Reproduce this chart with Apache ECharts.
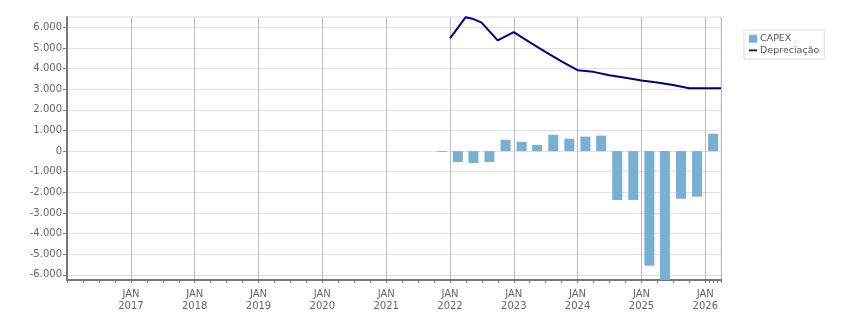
<!DOCTYPE html>
<html>
<head>
<meta charset="utf-8">
<script src="https://cdn.jsdelivr.net/npm/echarts@6/dist/echarts.min.js"></script>
<style>
  html, body { margin: 0; padding: 0; background: #fff; }
  #chart { width: 851px; height: 313px; }
</style>
</head>
<body>
<div id="chart"></div>
<script>
// CAPEX trimestral (barras no meio do trimestre)
var capexDates = ['2021-11-15', '2022-02-15', '2022-05-15', '2022-08-15', '2022-11-15',
  '2023-02-15', '2023-05-15', '2023-08-15', '2023-11-15',
  '2024-02-15', '2024-05-15', '2024-08-15', '2024-11-15',
  '2025-02-15', '2025-05-15', '2025-08-15', '2025-11-15', '2026-02-15'];
var capexValues = [-40, -530, -580, -530, 550,
  450, 300, 790, 600,
  700, 750, -2370, -2370,
  -5560, -6400, -2310, -2210, 840];

// Depreciação
var deprDates = ['2022-01-01', '2022-04-01', '2022-05-15', '2022-07-01', '2022-10-01',
  '2023-01-01', '2023-04-01', '2023-07-01', '2023-10-01',
  '2024-01-01', '2024-04-01', '2024-07-01', '2024-10-01',
  '2025-01-01', '2025-04-01', '2025-07-01', '2025-10-01',
  '2026-01-01', '2026-04-01'];
var deprValues = [5465, 6490, 6400, 6230, 5370,
  5770, 5280, 4810, 4350,
  3920, 3840, 3680, 3550,
  3420, 3320, 3200, 3050,
  3040, 3040];

var yTicks = [-6000, -5000, -4000, -3000, -2000, -1000, 0, 1000, 2000, 3000, 4000, 5000, 6000];

var xMin = '2016-01-01';
var xMax = '2026-04-01';

// data local (mesmo parse que o eixo time do echarts)
function ts(s) {
  var p = s.split('-');
  return new Date(+p[0], +p[1] - 1, +p[2]).getTime();
}

function fmtNum(v) {
  var s = Math.abs(v).toString().replace(/\B(?=(\d{3})+(?!\d))/g, '.');
  return (v < 0 ? '-' : '') + s;
}

var chart = echarts.init(document.getElementById('chart'));

var option = {
  animation: false,
  textStyle: { fontFamily: 'DejaVu Sans' },
  grid: {
    left: 67, right: 130, top: 17, bottom: 33,
    show: true, borderColor: '#dddddd', borderWidth: 1
  },
  legend: {
    orient: 'vertical',
    left: 744, top: 30,
    padding: [3, 5, 3, 5],
    itemWidth: 8, itemHeight: 8, itemGap: 0,
    borderColor: '#dddddd', borderWidth: 1,
    textStyle: { fontSize: 9.5, color: '#555', lineHeight: 11.5, padding: [0, 0, 0, -2] },
    data: [
      { name: 'CAPEX', icon: 'rect' },
      { name: 'Depreciação', icon: 'path://M0,0h0.01v0.01h-0.01z M0,3.2h8v1.8h-8z M7.99,7.99h0.01v0.01h-0.01z' }
    ]
  },
  xAxis: [
    {
      // eixo visivel (datas)
      type: 'time',
      min: xMin,
      max: xMax,
      splitNumber: 10,
      axisLine: { onZero: false, lineStyle: { color: '#777', width: 2 } },
      axisTick: { show: true, length: 3, lineStyle: { color: '#777' } },
      minorTick: { show: true, splitNumber: 4, length: 3, lineStyle: { color: '#777' } },
      splitLine: { show: true, lineStyle: { color: '#bbbbbb' } },
      axisLabel: {
        showMinLabel: false, showMaxLabel: false,
        color: '#666', fontSize: 10, lineHeight: 12.5, margin: 8,
        formatter: function (value) {
          if (value <= ts(xMin) || value >= ts(xMax)) return '';
          return 'JAN\n' + new Date(value).getFullYear();
        }
      }
    },
    {
      // eixo escondido para as barras (evita o ajuste de extent do eixo time)
      type: 'value',
      show: false,
      min: ts(xMin),
      max: ts(xMax),
      axisLine: { onZero: false },
      splitLine: { show: false }
    }
  ],
  yAxis: {
    type: 'value',
    min: -6250,
    max: 6500,
    axisLine: { show: true, lineStyle: { color: '#777', width: 2 } },
    axisTick: { show: true, length: 4, customValues: yTicks, lineStyle: { color: '#777' } },
    splitLine: { show: true, lineStyle: { color: '#e0e0e0' } },
    axisLabel: {
      customValues: yTicks,
      color: '#666', fontSize: 10, margin: 5,
      formatter: fmtNum
    }
  },
  series: [
    {
      name: 'CAPEX',
      type: 'bar',
      xAxisIndex: 1,
      barWidth: 10,
      itemStyle: { color: '#77b0d3' },
      data: capexDates.map(function (d, i) { return [ts(d), capexValues[i]]; })
    },
    {
      name: 'Depreciação',
      type: 'line',
      xAxisIndex: 0,
      symbol: 'none',
      lineStyle: { color: '#000080', width: 2 },
      itemStyle: { color: '#000080' },
      data: deprDates.map(function (d, i) { return [d, deprValues[i]]; })
    }
  ]
};

chart.setOption(option);
</script>
</body>
</html>
